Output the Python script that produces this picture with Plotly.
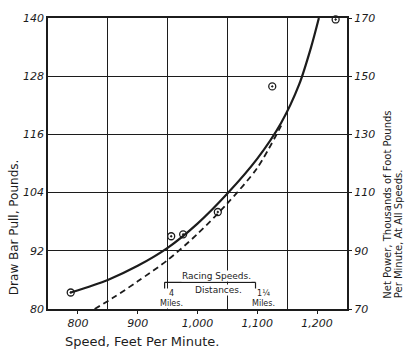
import plotly.graph_objects as go

# Draw bar pull (pounds) against speed (feet per minute)
pull_speed = [788, 850, 900, 950, 1000, 1050, 1100, 1140, 1170, 1190, 1203]
pull_lbs = [83.4, 86.0, 88.9, 92.6, 97.6, 103.8, 111.0, 118.4, 126.3, 134.0, 140.0]

# Observed test readings
obs_speed = [788, 956, 976, 1034, 1125, 1231]
obs_lbs = [83.4, 95.0, 95.4, 100.0, 125.9, 139.7]

# Net power, thousands of foot pounds per minute
power_speed = [828, 860, 900, 950, 1000, 1050, 1100, 1140]
power_kftlb = [70.0, 74.0, 79.5, 86.8, 95.8, 106.3, 118.5, 133.0]

x_ticks = [800, 900, 1000, 1100, 1200]
x_tick_text = ["800", "900", "1,000", "1,100", "1,200"]
x_grid = [850, 950, 1050, 1150]
y_ticks = [80, 92, 104, 116, 128, 140]
y2_ticks = [70, 90, 110, 130, 150, 170]

# Racing speeds for the 4 mile and 1 1/4 mile distances
race_4mi = 945
race_1q_mi = 1097

INK = "#1c1c1c"
FONT = "DejaVu Sans"

fig = go.Figure()
fig.add_trace(go.Scatter(
    x=pull_speed, y=pull_lbs, mode="lines",
    line=dict(color=INK, width=2.2, shape="spline", smoothing=0.8),
    showlegend=False))
fig.add_trace(go.Scatter(
    x=power_speed, y=power_kftlb, mode="lines", yaxis="y2",
    line=dict(color=INK, width=1.8, dash="6px,4px", shape="spline", smoothing=0.8),
    showlegend=False))
fig.add_trace(go.Scatter(
    x=obs_speed, y=obs_lbs, mode="markers",
    marker=dict(symbol="circle-open-dot", size=7, color=INK, line=dict(width=1.3, color=INK)),
    cliponaxis=False, showlegend=False))

tick_font = dict(family=FONT, size=11, color=INK, style="italic")

fig.update_layout(
    width=405, height=353,
    margin=dict(l=48, r=58, t=12, b=44),
    paper_bgcolor="white", plot_bgcolor="white",
    font=dict(family=FONT, color=INK),
    xaxis=dict(
        range=[750, 1250], tickvals=x_ticks, ticktext=x_tick_text,
        showgrid=False, zeroline=False, ticks="outside", ticklen=3,
        tickcolor=INK, tickfont=tick_font,
        showline=True, mirror=True, linecolor=INK, linewidth=1.6,
        minor=dict(tickvals=x_grid, showgrid=True, gridcolor=INK, gridwidth=1.3, ticks=""),
    ),
    yaxis=dict(
        range=[80, 140], tickvals=y_ticks, showgrid=True, gridcolor=INK,
        gridwidth=1.3, zeroline=False, ticks="", tickfont=tick_font,
        showline=True, mirror=True, linecolor=INK, linewidth=1.6,
    ),
    yaxis2=dict(
        range=[70, 170], tickvals=y2_ticks, overlaying="y", side="right",
        showgrid=False, zeroline=False, ticks="outside", ticklen=4,
        tickcolor=INK, tickfont=tick_font,
    ),
)

# Racing speed bracket
bracket_y, bracket_drop = 85.5, 83.4
fig.add_shape(type="line", xref="x", yref="y", x0=race_4mi, x1=race_1q_mi,
              y0=bracket_y, y1=bracket_y, line=dict(color=INK, width=1.2))
for bx in (race_4mi, race_1q_mi):
    fig.add_shape(type="line", xref="x", yref="y", x0=bx, x1=bx,
                  y0=bracket_y, y1=bracket_drop, line=dict(color=INK, width=1.2))

def note(text, x, y, size=9, **kw):
    fig.add_annotation(text=text, x=x, y=y, xref="x", yref="y", showarrow=False,
                       font=dict(family=FONT, size=size, color=INK),
                       bgcolor="white", borderpad=0, **kw)

note("Racing Speeds.", 1032, 86.9)
note("Distances.", 1035, 83.9)
note("4<br>Miles.", 956, 80.1, size=8, yanchor="bottom")
note("1¼<br>Miles.", 1110, 80.1, size=8, yanchor="bottom")

# Axis titles
fig.add_annotation(text="Draw Bar Pull, Pounds.", xref="paper", yref="paper",
                   x=-0.115, y=0.28, xanchor="center", yanchor="middle", textangle=-90,
                   showarrow=False, font=dict(family=FONT, size=12, color=INK))
fig.add_annotation(text="Net Power, Thousands of Foot Pounds", xref="paper", yref="paper",
                   x=1.135, y=0.03, xanchor="center", yanchor="bottom", textangle=-90,
                   showarrow=False, font=dict(family=FONT, size=10, color=INK))
fig.add_annotation(text="Per Minute, At All Speeds.", xref="paper", yref="paper",
                   x=1.172, y=0.03, xanchor="center", yanchor="bottom", textangle=-90,
                   showarrow=False, font=dict(family=FONT, size=10, color=INK))
fig.add_annotation(text="Speed, Feet Per Minute.", xref="paper", yref="paper",
                   x=0.314, y=-0.111, xanchor="center", yanchor="middle", showarrow=False,
                   font=dict(family=FONT, size=13, color=INK))

fig.write_html("out.html")
